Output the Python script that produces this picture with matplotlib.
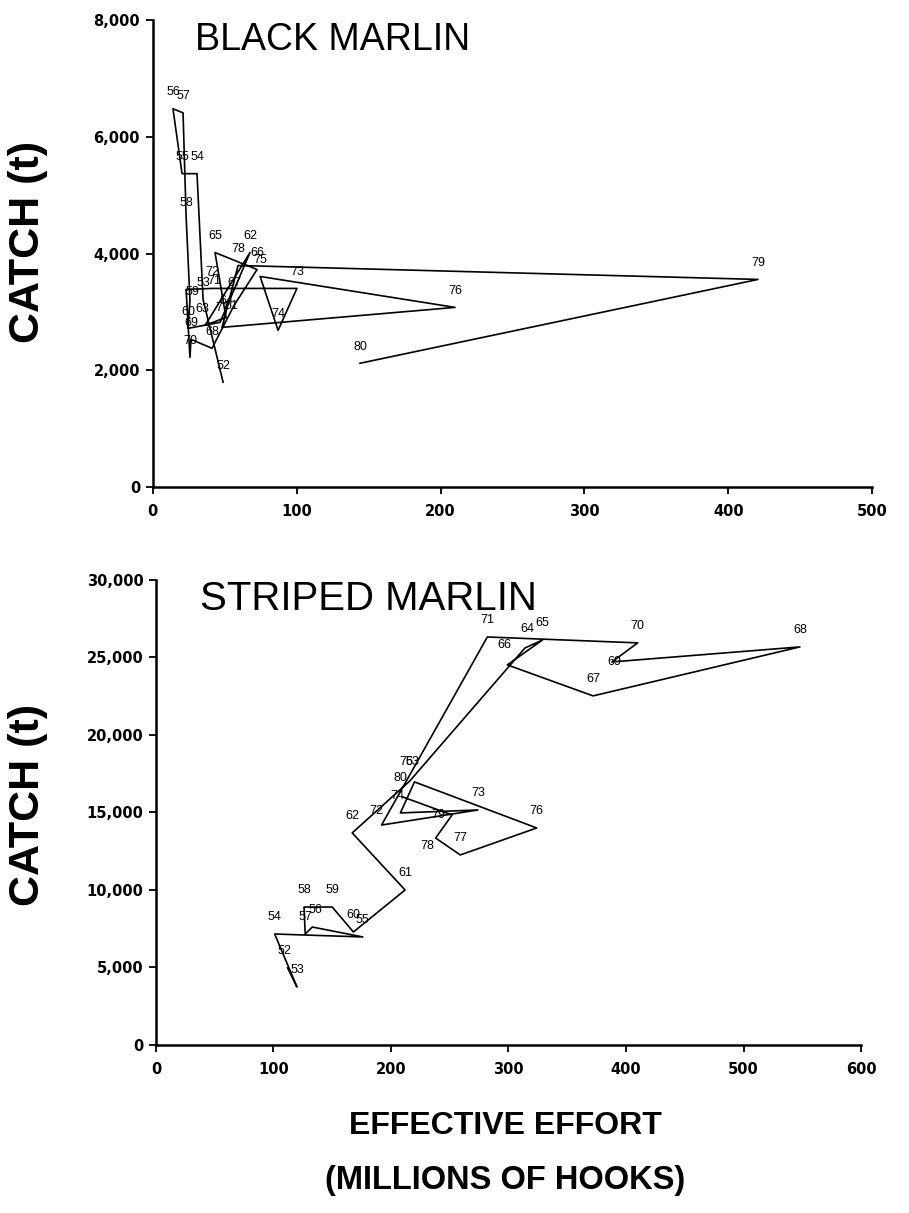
import matplotlib
matplotlib.use("Agg")
import matplotlib.pyplot as plt
from matplotlib.ticker import FuncFormatter

plt.rcParams["font.family"] = ["Liberation Sans", "DejaVu Sans"]

# black marlin, 1952-1980: effective effort (millions of hooks), catch (t)
black_years = list(range(52, 81))
black_effort = [49.0, 35.1, 30.9, 20.5, 14.2, 21.2, 23.3, 26.0, 24.7, 46.9,
                67.7, 36.5, 51.0, 43.4, 72.6, 56.6, 41.3, 26.7, 26.0, 23.3,
                41.3, 100.3, 87.2, 74.7, 210.1, 48.3, 59.4, 420.5, 144.1]
black_catch = [1795, 3214, 5368, 5368, 6479, 6410, 4650, 3197, 2718, 2821,
               4017, 2769, 2906, 4017, 3726, 3111, 2376, 2530, 2222, 3385,
               3402, 3402, 2684, 3607, 3077, 2735, 3795, 3556, 2120]

# striped marlin, 1952-1980
striped_years = list(range(52, 81))
striped_effort = [112, 120, 101, 176, 133, 127, 126, 150, 168, 212,
                  167, 216, 314, 329, 299, 372, 548, 388, 410, 282,
                  192, 274, 208, 220, 324, 259, 238, 252, 210]
striped_catch = [4970, 3740, 7160, 6970, 7610, 7160, 8900, 8900, 7290, 10000,
                 13680, 17030, 25610, 26130, 24520, 22520, 25680, 24710, 25940, 26320,
                 14190, 15160, 14970, 16970, 14000, 12260, 13350, 14840, 16000]

# label nudges (points) where the year label sits off the default spot
black_nudge = {58: (0, 9), 59: (2, 6), 67: (0, 16), 71: (20, 6), 63: (-2, 12),
               61: (8, 12), 77: (0, 14)}
striped_nudge = {52: (-2, 12), 64: (2, 14), 66: (-2, 14), 69: (2, 0),
                 79: (-10, 0), 80: (-2, 14), 75: (-6, 14), 63: (2, 14),
                 74: (-2, 12), 72: (-4, 10), 78: (-6, -6), 56: (2, 12)}

fmt = FuncFormatter(lambda v, p: f"{int(v):,}")
narrow = ["Liberation Sans Narrow", "Liberation Sans"]


def style(ax, xmax, ymax, ystep):
    ax.spines["top"].set_visible(False)
    ax.spines["right"].set_visible(False)
    for s in ("left", "bottom"):
        ax.spines[s].set_linewidth(1.8)
    ax.set_xlim(0, xmax)
    ax.set_ylim(0, ymax)
    ax.set_xticks(range(0, xmax + 1, 100))
    ax.set_yticks(range(0, ymax + 1, ystep))
    ax.yaxis.set_major_formatter(fmt)
    ax.tick_params(direction="out", length=5, width=1.3, pad=4, labelsize=10.5)
    ax.tick_params(axis="x", pad=7)
    for t in ax.get_xticklabels() + ax.get_yticklabels():
        t.set_fontweight("bold")
        t.set_family("DejaVu Sans")


def draw(ax, years, effort, catch, nudge):
    ax.plot(effort, catch, color="black", lw=1.2)
    for y, e, c in zip(years, effort, catch):
        dx, dy = nudge.get(y, (0, 12))
        ax.annotate(str(y), (e, c), xytext=(dx, dy), textcoords="offset points",
                    ha="center", va="center", fontsize=9)


fig = plt.figure(figsize=(9.09, 12.13), dpi=100)

ax1 = fig.add_axes([0.1678, 0.5985, 0.792, 0.385])
style(ax1, 500, 8000, 2000)
draw(ax1, black_years, black_effort, black_catch, black_nudge)
ax1.text(0.059, 0.957, "BLACK MARLIN", transform=ax1.transAxes,
         fontsize=27, va="center", ha="left")

ax2 = fig.add_axes([0.1716, 0.1385, 0.7756, 0.3834])
style(ax2, 600, 30000, 5000)
draw(ax2, striped_years, striped_effort, striped_catch, striped_nudge)
ax2.text(0.062, 0.958, "STRIPED MARLIN", transform=ax2.transAxes,
         fontsize=29, va="center", ha="left")

fig.text(28 / 909, 1 - 242 / 1213, "CATCH (t)", rotation=90, ha="center",
         va="center", fontsize=31, fontweight="bold")
fig.text(28 / 909, 1 - 805 / 1213, "CATCH (t)", rotation=90, ha="center",
         va="center", fontsize=31, fontweight="bold")
fig.text(505 / 909, 1 - 1126 / 1213, "EFFECTIVE EFFORT", ha="center",
         va="center", fontsize=23, fontweight="bold", family=narrow)
fig.text(505 / 909, 1 - 1180 / 1213, "(MILLIONS OF HOOKS)", ha="center",
         va="center", fontsize=23.5, fontweight="bold", family=narrow)

fig.savefig("out.png", dpi=100)
